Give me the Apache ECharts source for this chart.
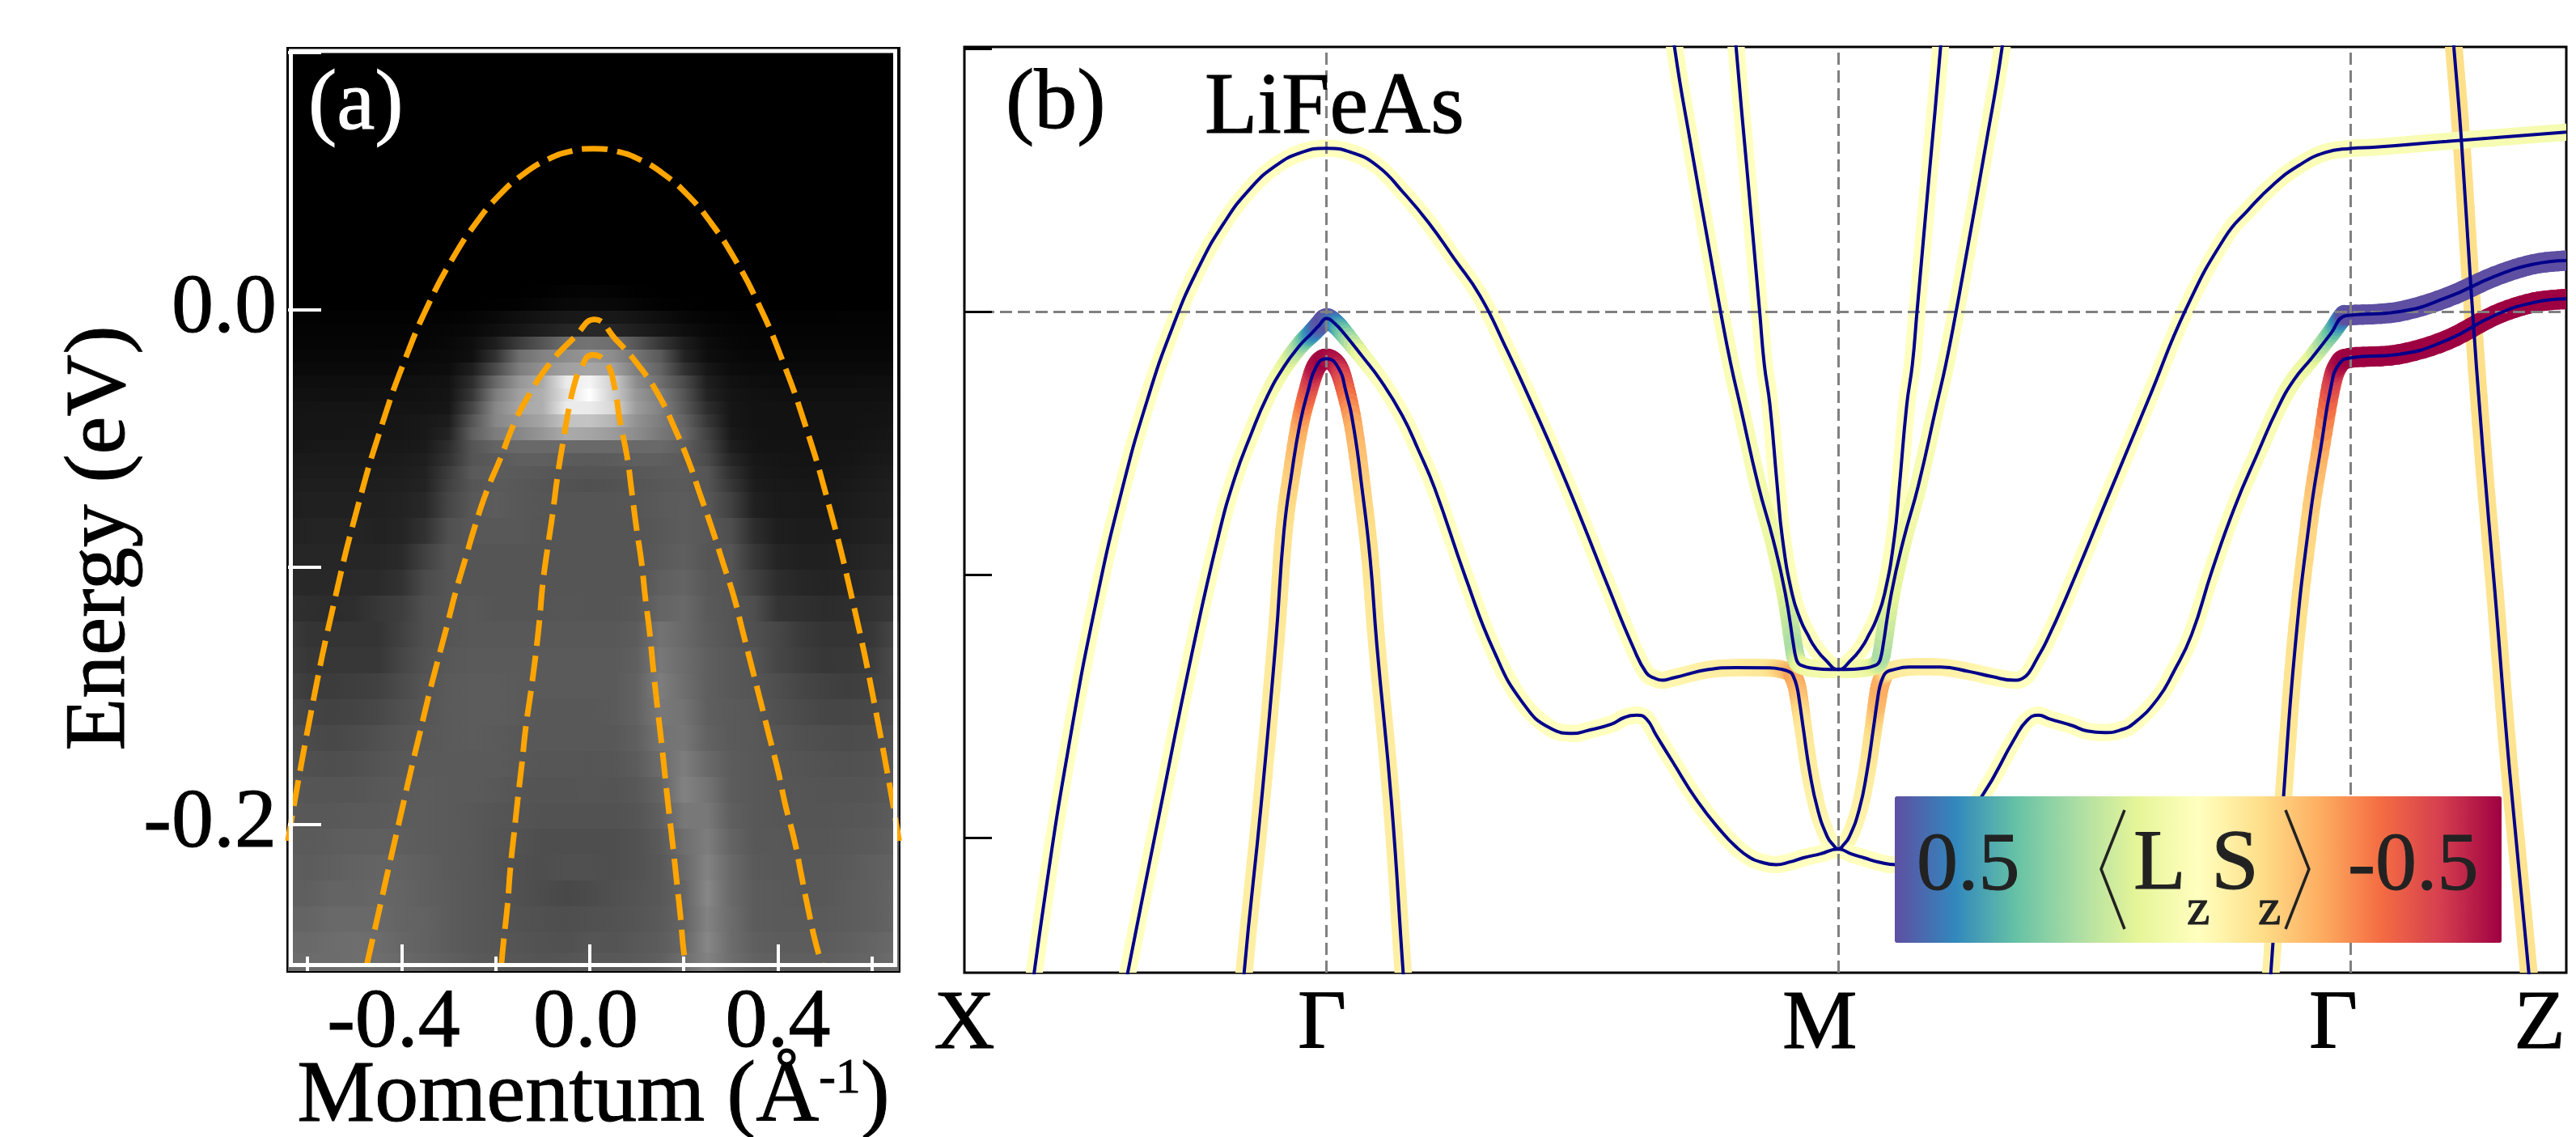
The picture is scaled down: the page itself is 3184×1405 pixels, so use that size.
<!DOCTYPE html>
<html><head><meta charset="utf-8">
<style>html,body{margin:0;padding:0;background:#fff}#c{width:3184px;height:1405px}</style>
<script src="https://cdn.jsdelivr.net/npm/echarts@6/dist/echarts.min.js"></script>
</head><body><div id="c"></div>
<script>
const FONT = 'Liberation Serif';

// ---------- panel (a): ARPES intensity, one row per energy slice ----------
const heatMomentum = [-.65,-.6,-.55,-.5,-.45,-.4,-.35,-.3,-.25,-.2,-.15,-.1,-.05,0,.05,.1,.15,.2,.25,.3,.35,.4,.45,.5,.55,.6,.65];
const heatEnergyTop = [.1014,.00959,.00456,-.00047,-.0055,-.01053,-.01557,-.0206,-.02563,-.03066,-.03569,-.04072,-.04575,-.05079,-.05582,-.06085,-.06588,-.07091,-.08097,-.09104,-.1011,-.11116,-.12123,-.13129,-.14135,-.15142,-.16148,-.17154,-.18161,-.19167,-.20173,-.2118,-.22186,-.23192,-.24199,-.25];
const heatGray = [
[0,0,0,0,0,0,0,0,0,0,0,0,0,0,0,0,0,0,0,0,0,0,0,0,0,0,0],
[0,0,0,0,0,0,0,0,0,0,0,1,3,4,3,1,0,0,0,0,0,0,0,0,0,0,0],
[0,0,0,0,0,0,0,0,0,1,2,5,8,9,8,5,2,1,0,0,0,0,0,0,0,0,0],
[3,3,2,2,2,2,3,3,5,9,15,20,24,25,24,20,14,8,4,3,2,2,2,2,3,3,3],
[4,4,4,4,4,4,5,6,8,15,22,30,38,40,38,30,22,14,8,5,4,4,4,4,4,4,4],
[5,5,5,5,5,5,6,8,14,30,60,85,110,115,110,85,55,28,12,7,5,5,5,5,5,5,5],
[7,7,7,7,7,8,9,10,15,50,110,130,140,150,140,115,90,35,14,9,7,7,7,7,7,7,7],
[10,10,10,10,10,10,12,13,30,75,125,145,160,165,160,125,100,50,22,12,10,10,10,10,10,10,10],
[14,14,14,14,14,15,16,18,45,105,150,170,235,245,205,140,110,75,30,17,14,13,13,13,13,14,14],
[17,17,16,16,17,17,18,20,55,125,160,175,225,255,205,150,125,85,35,20,17,16,16,16,16,16,16],
[20,20,20,20,20,20,20,22,70,135,165,175,235,235,215,155,130,90,45,22,18,18,18,18,18,18,19],
[20,21,21,21,22,22,24,28,85,135,150,165,195,195,180,145,125,100,55,22,18,18,18,18,18,19,20],
[20,21,21,22,22,22,24,35,95,125,135,150,170,165,155,140,120,105,65,25,19,18,18,18,18,20,22],
[22,23,24,24,24,24,26,45,85,100,105,105,105,105,105,105,105,95,70,30,20,19,19,20,20,22,24],
[25,26,26,26,26,27,30,50,85,90,95,95,92,90,92,95,95,90,75,38,23,21,20,20,21,24,26],
[26,28,28,28,28,29,33,60,90,92,90,88,85,85,85,88,90,92,85,48,25,22,21,22,23,26,28],
[28,30,30,30,30,31,35,65,85,90,88,85,82,80,82,85,88,90,85,55,28,24,23,23,25,28,30],
[30,32,32,32,32,34,40,70,88,92,88,86,85,85,85,86,90,92,88,65,32,26,25,25,27,30,32],
[33,35,36,36,34,36,50,80,88,88,88,85,85,85,85,85,88,92,88,78,45,30,28,28,30,33,36],
[36,38,38,38,38,42,65,85,85,85,85,85,85,85,85,85,90,95,85,85,55,36,32,32,34,38,40],
[42,40,40,42,42,50,75,85,85,85,85,85,85,85,85,85,95,100,88,85,65,45,38,36,38,42,46],
[48,46,44,46,55,62,80,85,88,85,85,85,86,85,85,88,100,105,90,85,78,52,48,44,46,50,56],
[60,52,52,52,52,65,80,85,88,88,88,88,88,88,88,92,115,105,92,85,80,70,58,52,52,55,70],
[62,55,55,55,55,70,82,88,90,90,90,90,90,90,90,95,120,108,95,88,85,70,62,55,56,60,75],
[68,60,60,62,65,75,85,90,92,92,90,90,90,90,90,98,125,110,95,88,85,78,70,65,62,65,72],
[75,68,66,68,72,80,86,90,92,92,90,88,88,88,90,98,120,115,95,90,88,80,75,70,70,72,80],
[80,75,72,75,80,85,88,90,92,90,88,88,88,88,88,95,115,118,98,90,88,85,80,78,76,78,85],
[85,80,78,80,84,88,90,90,90,90,88,86,86,85,86,92,108,125,105,92,88,86,84,82,80,82,88],
[88,85,85,85,88,90,92,90,90,88,85,84,84,85,84,88,100,130,115,92,88,86,85,84,84,85,90],
[90,88,88,90,90,92,92,90,88,85,84,82,82,82,82,85,95,120,120,95,88,86,85,85,86,88,92],
[92,90,92,94,95,94,92,90,88,84,82,78,78,78,78,82,90,110,125,100,88,88,86,86,88,90,95],
[95,92,95,98,100,98,95,90,88,84,80,78,80,80,78,82,88,105,130,105,90,88,88,88,90,95,98],
[95,95,100,100,102,100,95,92,88,85,80,76,72,75,80,84,88,100,135,105,92,90,88,88,92,95,100],
[100,100,105,105,105,100,98,92,88,85,82,80,78,80,82,85,90,100,130,108,92,90,90,90,92,95,100],
[105,105,108,110,108,102,98,92,88,86,84,82,80,85,84,88,92,102,135,108,95,92,92,92,95,100,105],
[108,108,108,110,110,105,100,95,90,88,86,84,85,88,88,90,95,110,130,110,98,95,95,95,98,102,108]
];

// dashed dispersions over the ARPES map: [momentum, energy]
const arpesOuter = [[-.642,-.2065],[-.592,-.1558],[-.542,-.1125],[-.492,-.0757],[-.442,-.0448],[-.392,-.019],[-.342,.0024],[-.292,.0197],[-.242,.0336],[-.192,.0445],[-.142,.0525],[-.092,.0581],[-.042,.0614],[.008,.0625],[.058,.0614],[.108,.0581],[.158,.0525],[.208,.0445],[.258,.0336],[.308,.0197],[.358,.0024],[.408,-.019],[.458,-.0448],[.508,-.0757],[.558,-.1125],[.608,-.1558],[.658,-.2065]];
const arpesMiddle = [[-.474,-.2545],[-.463,-.2456],[-.446,-.2319],[-.43,-.2188],[-.413,-.2052],[-.396,-.1916],[-.379,-.178],[-.361,-.1643],[-.344,-.1512],[-.325,-.1376],[-.305,-.1239],[-.286,-.1103],[-.265,-.0972],[-.244,-.0841],[-.219,-.0705],[-.19,-.0579],[-.161,-.0443],[-.128,-.0328],[-.086,-.0212],[-.032,-.0107],[.01,-.0039],[.056,-.0118],[.106,-.0223],[.148,-.0338],[.181,-.0464],[.21,-.059],[.235,-.0721],[.26,-.0852],[.283,-.0983],[.306,-.1114],[.325,-.125],[.344,-.1386],[.363,-.1522],[.381,-.1654],[.4,-.179],[.416,-.1926],[.435,-.2062],[.45,-.2199],[.465,-.2335],[.481,-.2466],[.494,-.2545]];
const arpesInner = [[-.188,-.2545],[-.183,-.245],[-.175,-.2314],[-.169,-.2172],[-.161,-.2036],[-.153,-.19],[-.144,-.1759],[-.136,-.1622],[-.125,-.1481],[-.115,-.134],[-.107,-.1208],[-.1,-.1066],[-.09,-.093],[-.079,-.0794],[-.069,-.0653],[-.057,-.0516],[-.044,-.038],[-.032,-.0286],[-.023,-.0244],[.006,-.0176],[.035,-.0207],[.052,-.0296],[.064,-.0432],[.079,-.0569],[.089,-.0705],[.099,-.0846],[.11,-.0983],[.118,-.1119],[.127,-.125],[.135,-.1397],[.143,-.1533],[.152,-.1675],[.16,-.1811],[.168,-.1947],[.177,-.2089],[.185,-.2225],[.193,-.2361],[.2,-.2497],[.206,-.2545]];

const energyTicksA = [.1,0,-.1,-.2];
const energyLabelsA = [0,-.2];
const momentumMajorA = [-.4,0,.4];
const momentumMinorA = [-.6,-.2,.2,.6];

// ---------- panel (b): band structure, [path coordinate, energy, <LzSz>] ----------
const pathValues = [-.7072,0,1,2,2.422];
const pathLabels = ['X','Γ','M','Γ','Z'];
const energyTicksB = [.1,0,-.1,-.2];
const spectralColors = ['#9e0142','#d53e4f','#f46d43','#fdae61','#fee08b','#ffffbf','#e6f598','#abdda4','#66c2a5','#3288bd','#5e4fa2'];

const bandSteep = [[2.19,.13,-.09],[2.2027,.0998,-.1],[2.2168,.066,-.1],[2.2356,.0094,-.1],[2.259,-.0527,-.1],[2.2826,-.1067,-.09],[2.311,-.1742,-.09],[2.3486,-.251,-.09],[2.36,-.28,-.09]];
const bandOuter = [[-.6,-.2951,0],[-.55,-.2226,0],[-.5,-.1616,0],[-.45,-.1106,0],[-.4,-.0684,0],[-.35,-.0337,0],[-.3,-.0057,0],[-.25,.0166,0],[-.2,.0337,0],[-.15,.0465,0],[-.1,.0553,0],[-.05,.0604,0],[0,.0621,0],[.05,.0604,0],[.1,.0553,0],[.15,.0453,0],[.2,.0337,0],[.25,.02,0],[.3,.006,0],[.35,-.0135,0],[.4,-.0345,0],[.45,-.0565,0],[.5,-.08,0],[.55,-.1045,0],[.6,-.128,0],[.625,-.1374,-.005],[.6409,-.1394,-.01],[.6565,-.1402,-.02],[.6752,-.1394,-.03],[.694,-.1385,-.03],[.744,-.1362,-.05],[.8,-.1354,-.06],[.863,-.1355,-.08],[.885,-.1359,-.12],[.9064,-.1372,-.18],[.9127,-.139,-.22],[.919,-.1426,-.2],[.924,-.1482,-.16],[.9315,-.1585,-.08],[.944,-.1749,-.06],[.9595,-.1892,-.04],[.978,-.1995,-.02],[.99,-.2028,-.01],[1,-.2044,0],[1.01,-.2028,-.01],[1.022,-.1995,-.02],[1.041,-.1892,-.04],[1.056,-.1749,-.06],[1.0685,-.1585,-.1],[1.076,-.1482,-.18],[1.081,-.1426,-.2],[1.0873,-.139,-.2],[1.0936,-.1372,-.14],[1.103,-.1364,-.08],[1.138,-.1352,-.06],[1.2,-.1352,-.05],[1.256,-.1369,-.04],[1.3,-.1388,-.02],[1.344,-.1402,-.01],[1.36,-.1395,0],[1.372,-.1374,0],[1.388,-.132,0],[1.406,-.1256,0],[1.444,-.1092,0],[1.53,-.0689,0],[1.605,-.0338,0],[1.68,.0013,0],[1.7555,.0283,0],[1.8,.0385,.01],[1.85,.0483,.01],[1.9,.0556,.02],[1.95,.0604,.02],[2,.062,.02],[2.05,.0625,.02],[2.1885,.0647,.03],[2.422,.0682,.04]];
const bandMiddle = [[-.41,-.2735,0],[-.388,-.2513,0],[-.33,-.1945,0],[-.2605,-.128,0],[-.2105,-.085,0],[-.179,-.0632,0],[-.1473,-.0467,.01],[-.1157,-.0323,.02],[-.083,-.021,.06],[-.0516,-.0128,.2],[-.03,-.0085,.36],[-.014,-.0052,.46],[0,-.0026,.5],[.0168,-.0046,.44],[.035,-.0085,.3],[.0695,-.0169,.08],[.106,-.0262,.01],[.148,-.0395,0],[.18,-.0528,0],[.2115,-.0672,0],[.2716,-.101,0],[.327,-.129,0],[.3825,-.1485,0],[.438,-.1585,0],[.4823,-.1604,0],[.5065,-.1595,0],[.5565,-.1569,0],[.5815,-.1544,0],[.6065,-.1535,0],[.625,-.1549,0],[.644,-.161,0],[.675,-.1708,0],[.725,-.1862,0],[.775,-.1985,0],[.8,-.2035,0],[.825,-.2073,0],[.85,-.2094,0],[.878,-.2103,0],[.905,-.2093,0],[.9315,-.2077,0],[.965,-.2062,0],[1,-.2044,0],[1.025,-.2062,0],[1.05,-.2077,0],[1.08,-.2094,0],[1.1126,-.2103,0],[1.17,-.2077,0],[1.22,-.1985,0],[1.281,-.1841,0],[1.344,-.1625,0],[1.369,-.1554,0],[1.391,-.1535,0],[1.4126,-.1549,0],[1.4564,-.1574,0],[1.486,-.1595,0],[1.52,-.1601,0],[1.55,-.1592,0],[1.577,-.1566,0],[1.624,-.1472,0],[1.655,-.137,0],[1.69,-.1229,0],[1.73,-.0985,.01],[1.7744,-.0743,.01],[1.82,-.0535,.02],[1.859,-.0365,.03],[1.89,-.026,.05],[1.925,-.0176,.08],[1.9626,-.0082,.26],[1.986,-.0019,.44],[2,-.0014,.5],[2.094,-.0001,.5],[2.1885,.0053,.5],[2.2826,.0134,.5],[2.358,.018,.5],[2.422,.0194,.5]];
const bandInner = [[-.175,-.29,-.05],[-.1608,-.2515,-.05],[-.1275,-.1875,-.06],[-.0989,-.1256,-.07],[-.083,-.0836,-.09],[-.0674,-.061,-.13],[-.0516,-.0426,-.2],[-.036,-.0303,-.33],[-.02,-.021,-.46],[0,-.0179,-.5],[.0221,-.021,-.46],[.038,-.0303,-.33],[.0537,-.0446,-.2],[.0695,-.0672,-.13],[.0853,-.0938,-.09],[.0985,-.1267,-.07],[.1275,-.1875,-.06],[.15,-.2515,-.05],[.165,-.29,-.05]];
const bandInnerRight = [[1.83,-.29,-.05],[1.845,-.251,-.05],[1.8685,-.1876,-.07],[1.892,-.1283,-.09],[1.9203,-.0797,-.12],[1.944,-.05,-.2],[1.9626,-.0284,-.36],[1.977,-.0203,-.46],[2,-.0176,-.5],[2.094,-.0163,-.5],[2.1885,-.0109,-.5],[2.2826,-.0014,-.5],[2.358,.0034,-.5],[2.422,.0048,-.5]];
const bandElectronOuter = [[.655,.14,.01],[.6804,.1,.01],[.713,.0621,.01],[.7504,.021,.01],[.7699,0,.01],[.7899,-.02,.02],[.8079,-.0354,.02],[.8437,-.0662,.04],[.8726,-.0867,.07],[.8964,-.1072,.1],[.9132,-.1277,.2],[.917,-.1315,.18],[.922,-.1338,.13],[.93,-.1347,.09],[.944,-.1355,.06],[.97,-.136,.05],[1,-.1361,.04],[1.03,-.136,.05],[1.056,-.1355,.06],[1.07,-.1347,.09],[1.078,-.1338,.13],[1.083,-.1315,.18],[1.0868,-.1277,.2],[1.1036,-.1072,.1],[1.1274,-.0867,.07],[1.1563,-.0662,.04],[1.1921,-.0354,.02],[1.2101,-.02,.02],[1.2301,0,.01],[1.2496,.021,.01],[1.287,.0621,.01],[1.3196,.1,.01],[1.345,.14,.01]];
const bandElectronInner = [[.785,.14,0],[.8005,.1,0],[.8226,.0518,0],[.8463,0,0],[.8553,-.02,0],[.8663,-.0354,0],[.8806,-.0662,0],[.8911,-.0867,.01],[.9095,-.1072,.01],[.9264,-.1174,.01],[.94,-.1228,.01],[.9543,-.1277,.01],[.975,-.1325,.01],[1,-.1361,.01],[1.025,-.1325,.01],[1.0457,-.1277,.01],[1.06,-.1228,.01],[1.0736,-.1174,.01],[1.0905,-.1072,.01],[1.1089,-.0867,.01],[1.1194,-.0662,0],[1.1337,-.0354,0],[1.1447,-.02,0],[1.1537,0,0],[1.1774,.0518,0],[1.1995,.1,0],[1.215,.14,0]];
const bands = [bandSteep, bandOuter, bandElectronInner, bandElectronOuter, bandMiddle, bandInner, bandInnerRight];

function spectralColor(s) {
  const t = Math.min(1, Math.max(0, s + .5)) * (spectralColors.length - 1);
  const i = Math.min(spectralColors.length - 2, Math.floor(t)), f = t - i;
  const c = h => [1, 3, 5].map(j => parseInt(h.substr(j, 2), 16));
  const a = c(spectralColors[i]), b = c(spectralColors[i + 1]);
  return 'rgb(' + a.map((v, j) => Math.round(v + (b[j] - v) * f)).join(',') + ')';
}

function underlay(band) {
  return {
    type: 'custom', coordinateSystem: 'cartesian2d', xAxisIndex: 2, yAxisIndex: 1,
    clip: true, z: 2, silent: true, data: band, encode: { x: 0, y: 1 },
    renderItem(params, api) {
      const i = params.dataIndex, n = band.length;
      if (i >= n - 1) return null;
      const P = j => band[Math.max(0, Math.min(n - 1, j))];
      const pts = [P(i - 1), P(i), P(i + 1), P(i + 2)].map(p => api.coord([p[0], p[1]]));
      const children = []; const N = 6; let prev = pts[1];
      for (let j = 1; j <= N; j++) {
        const t = j / N, t2 = t * t, t3 = t2 * t;
        const cr = d => .5 * (2 * pts[1][d] + (pts[2][d] - pts[0][d]) * t + (2 * pts[0][d] - 5 * pts[1][d] + 4 * pts[2][d] - pts[3][d]) * t2 + (3 * pts[1][d] - pts[0][d] - 3 * pts[2][d] + pts[3][d]) * t3);
        const cur = [cr(0), cr(1)];
        const s = band[i][2] + (band[i + 1][2] - band[i][2]) * (t - .5 / N);
        children.push({ type: 'line', silent: true, shape: { x1: prev[0], y1: prev[1], x2: cur[0], y2: cur[1] },
          style: { stroke: spectralColor(s), lineWidth: 21 + 8 * Math.abs(s), lineCap: 'round', fill: null } });
        prev = cur;
      }
      return { type: 'group', children };
    }
  };
}
const navy = band => ({
  type: 'line', xAxisIndex: 2, yAxisIndex: 1, data: band.map(p => [p[0], p[1]]), showSymbol: false, symbol: 'none',
  smooth: .5, z: 4, silent: true, clip: true, lineStyle: { color: '#00008b', width: 4 }
});
const orange = d => ({
  type: 'line', xAxisIndex: 0, yAxisIndex: 0, data: d, showSymbol: false, symbol: 'none', smooth: .5, z: 3, silent: true, clip: true,
  lineStyle: { color: '#ffa500', width: 7, type: [32, 12] }
});

const momentumMin = -.6417, momentumMax = .6572, energyMinA = -.2571, energyMaxA = .1014;
const heatSeries = {
  type: 'custom', coordinateSystem: 'cartesian2d', xAxisIndex: 0, yAxisIndex: 0, clip: true, z: 1, silent: true,
  data: heatEnergyTop.map((e, i) => [0, e, i]), encode: { x: 0, y: 1 },
  renderItem(params, api) {
    const i = params.dataIndex;
    const top = heatEnergyTop[i], bot = i + 1 < heatEnergyTop.length ? heatEnergyTop[i + 1] : energyMinA;
    const a = api.coord([momentumMin, top]), b = api.coord([momentumMax, bot]);
    const stops = heatMomentum.map((k, j) => {
      const g = heatGray[i][j];
      return { offset: Math.max(0, Math.min(1, (k - momentumMin) / (momentumMax - momentumMin))), color: 'rgb(' + g + ',' + g + ',' + g + ')' };
    });
    return { type: 'rect', silent: true, shape: { x: a[0], y: a[1], width: b[0] - a[0], height: b[1] - a[1] + .5 },
      style: { fill: new echarts.graphic.LinearGradient(0, 0, 1, 0, stops) } };
  }
};

const txt = (text, x, y, size, fill, extra) => ({ type: 'text', z: 20, zlevel: 1, silent: true,
  style: Object.assign({ text, x, y, fill: fill || '#000', stroke: fill || '#000', lineWidth: 1, font: size + 'px "' + FONT + '"', textAlign: 'left', textVerticalAlign: 'middle' }, extra || {}) });
const tickText = (size, extra) => Object.assign({ fontSize: size, fontFamily: FONT, color: '#000', textBorderColor: '#000', textBorderWidth: 1 }, extra || {});

const option = {
  animation: false,
  backgroundColor: '#fff',
  textStyle: { fontFamily: FONT },
  grid: [
    { left: 356, top: 60, width: 755, height: 1140, show: true, backgroundColor: '#000', borderColor: '#000', borderWidth: 4, containLabel: false, outerBoundsMode: 'none' },
    { left: 1192, top: 58, width: 1980, height: 1144, show: true, backgroundColor: '#fff', borderColor: '#000', borderWidth: 3, containLabel: false, outerBoundsMode: 'none' }
  ],
  xAxis: [
    { type: 'value', gridIndex: 0, min: momentumMin, max: momentumMax, z: 6, position: 'bottom', splitLine: { show: false }, axisLine: { show: false, onZero: false },
      axisTick: { show: true, inside: true, length: 33, customValues: momentumMajorA, lineStyle: { color: '#fff', width: 4 } },
      axisLabel: { customValues: momentumMajorA, margin: 14, hideOverlap: false,
        formatter: v => (v < 0 ? '{n|' : v === 0 ? '{z|' : '{p|') + v.toFixed(1) + '}',
        rich: { n: tickText(104, { padding: [0, 20, 0, 0] }), z: tickText(104, { padding: [0, 10, 0, 0] }), p: tickText(104) } },
      name: 'Momentum (Å{s|-1})', nameLocation: 'middle', nameGap: 103, nameMoveOverlap: false,
      nameTextStyle: { fontFamily: FONT, fontSize: 108, color: '#000', textBorderColor: '#000', textBorderWidth: 1, rich: { s: { fontFamily: FONT, fontSize: 62, color: '#000', verticalAlign: 'top' } } } },
    { type: 'value', gridIndex: 0, min: momentumMin, max: momentumMax, z: 6, position: 'bottom', splitLine: { show: false }, axisLine: { show: false, onZero: false },
      axisLabel: { show: false },
      axisTick: { show: true, inside: true, length: 18, customValues: momentumMinorA, lineStyle: { color: '#fff', width: 4 } } },
    { type: 'value', gridIndex: 1, min: pathValues[0], max: pathValues[4], z: 6, position: 'bottom', splitLine: { show: false }, axisLine: { show: false, onZero: false }, axisTick: { show: false },
      axisLabel: { customValues: pathValues, margin: 14, hideOverlap: false, showMinLabel: true, showMaxLabel: true,
        formatter: v => { const i = pathValues.indexOf(v); return '{l' + i + '|' + pathLabels[i] + '}'; },
        rich: {
          l0: tickText(104),
          l1: tickText(104, { padding: [0, 11, 0, 0] }),
          l2: tickText(104, { padding: [0, 46, 0, 0] }),
          l3: tickText(104, { padding: [0, 42, 0, 0] }),
          l4: tickText(104, { padding: [0, 66, 0, 0] }) } } }
  ],
  yAxis: [
    { type: 'value', gridIndex: 0, min: energyMinA, max: energyMaxA, z: 6, splitLine: { show: false }, axisLine: { show: false, onZero: false },
      axisTick: { show: true, inside: true, length: 41, customValues: energyTicksA, lineStyle: { color: '#fff', width: 4 } },
      axisLabel: Object.assign(tickText(104), { customValues: energyLabelsA, margin: 14, padding: [0, 0, 26, 0], formatter: v => v.toFixed(1) }),
      name: 'Energy (eV)', nameLocation: 'middle', nameGap: 178, nameRotate: 90, nameMoveOverlap: false,
      nameTextStyle: { fontFamily: FONT, fontSize: 106, color: '#000', textBorderColor: '#000', textBorderWidth: 1, padding: [0, 70, 0, 0] } },
    { type: 'value', gridIndex: 1, min: -.2514, max: .1006, z: 6, splitLine: { show: false }, axisLine: { show: false, onZero: false }, axisLabel: { show: false },
      axisTick: { show: true, inside: true, length: 34, customValues: energyTicksB, lineStyle: { color: '#000', width: 3 } } }
  ],
  visualMap: {
    type: 'continuous', min: -.5, max: .5, inverse: true, orient: 'horizontal', seriesIndex: [],
    left: 2342, top: 984, itemWidth: 181, itemHeight: 750, padding: 0, text: null, calculable: false, hoverLink: false, realtime: false, z: 10,
    textStyle: { fontSize: 0 }, showLabel: false,
    inRange: { color: spectralColors }
  },
  series: [
    heatSeries,
    orange(arpesOuter), orange(arpesMiddle), orange(arpesInner),
    ...bands.map(underlay),
    { type: 'line', xAxisIndex: 2, yAxisIndex: 1, data: [], z: 3, silent: true,
      markLine: { silent: true, symbol: 'none', animation: false, z: 3, label: { show: false }, lineStyle: { color: '#808080', width: 3, type: [15, 7] },
        data: [{ xAxis: pathValues[1] }, { xAxis: pathValues[2] }, { xAxis: pathValues[3] }, { yAxis: 0 }] } },
    ...bands.map(navy)
  ],
  graphic: [
    { type: 'rect', z: 5, silent: true, shape: { x: 359.5, y: 63, width: 747, height: 1129.5 }, style: { fill: null, stroke: '#fff', lineWidth: 5 } },
    txt('(a)', 381, 131, 106, '#fff'),
    txt('(b)', 1243, 130, 106),
    txt('LiFeAs', 1489, 136, 107),
    txt('0.5', 2369, 1072, 102, '#222'),
    txt('-0.5', 2902, 1072, 102, '#222'),
    txt('L', 2637, 1070, 106, '#222'),
    txt('z', 2703, 1125, 64, '#222'),
    txt('S', 2733, 1070, 106, '#222'),
    txt('z', 2791, 1125, 64, '#222'),
    { type: 'polyline', z: 20, zlevel: 1, silent: true, shape: { points: [[2626, 1001], [2597, 1074], [2626, 1148]] }, style: { fill: null, stroke: '#222', lineWidth: 3.5 } },
    { type: 'polyline', z: 20, zlevel: 1, silent: true, shape: { points: [[2825, 1001], [2854, 1074], [2825, 1148]] }, style: { fill: null, stroke: '#222', lineWidth: 3.5 } }
  ]
};
const chart = echarts.init(document.getElementById('c'), null, { renderer: 'canvas' });
chart.setOption(option);
</script></body></html>
